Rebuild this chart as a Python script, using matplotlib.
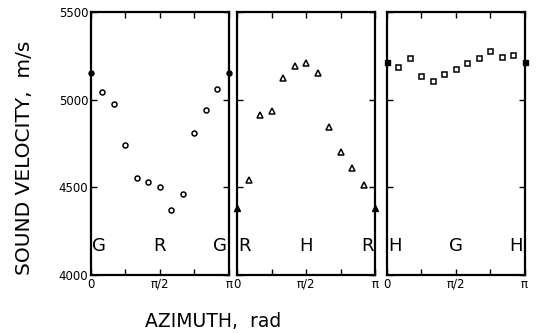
import matplotlib.pyplot as plt
import numpy as np

# azimuth in degrees, every 15 deg from 0 to 180
azimuth_deg = [0, 15, 30, 45, 60, 75, 90, 105, 120, 135, 150, 165, 180]

# sound velocity (m/s) for the three planes
v_gr = [5150, 5042, 4974, 4742, 4552, 4530, 4500, 4369, 4460, 4812, 4941, 5061, 5150]
v_rh = [4380, 4542, 4913, 4935, 5122, 5194, 5207, 5154, 4842, 4700, 4609, 4512, 4380]
v_hg = [5217, 5188, 5236, 5137, 5106, 5146, 5177, 5207, 5236, 5278, 5245, 5255, 5217]

panel_letters = [('G', 'R', 'G'), ('R', 'H', 'R'), ('H', 'G', 'H')]
panel_data = [v_gr, v_rh, v_hg]
panel_markers = ['o', '^', 's']

x = np.radians(azimuth_deg)

fig = plt.figure(figsize=(5.38, 3.33), dpi=100)
lefts = [0.169, 0.441, 0.719]
width = 0.256
bottom, height = 0.174, 0.790

for i in range(3):
    ax = fig.add_axes([lefts[i], bottom, width, height])
    y = panel_data[i]
    m = panel_markers[i]
    ms = 4.0 if m == '^' else 3.6
    # open markers for the inner points
    ax.plot(x[1:-1], y[1:-1], linestyle='none', marker=m, markersize=ms,
            markerfacecolor='white', markeredgecolor='black', markeredgewidth=1.1)
    # filled markers at 0 and pi
    ax.plot([x[0], x[-1]], [y[0], y[-1]], linestyle='none', marker=m, markersize=ms,
            color='black', clip_on=False, zorder=5)

    ax.set_xlim(0, np.pi)
    ax.set_ylim(4000, 5500)
    ax.set_xticks([0, np.pi / 4, np.pi / 2, 3 * np.pi / 4, np.pi])
    ax.set_xticklabels(['0', '', 'π/2', '', 'π'])
    ax.set_yticks([4000, 4500, 5000, 5500])
    if i == 0:
        ax.set_yticklabels(['4000', '4500', '5000', '5500'])
    else:
        ax.set_yticklabels([])
    ax.tick_params(direction='in', top=True, right=True, length=4, width=1,
                   labelsize=8.5, pad=2)
    for s in ax.spines.values():
        s.set_linewidth(1.6)

    l1, l2, l3 = panel_letters[i]
    ax.text(0.03, 4165, l1, ha='left', va='center', fontsize=13)
    ax.text(np.pi / 2, 4165, l2, ha='center', va='center', fontsize=13)
    ax.text(np.pi - 0.03, 4165, l3, ha='right', va='center', fontsize=13)

fig.text(0.046, 0.525, 'SOUND VELOCITY,  m/s', rotation=90, ha='center', va='center',
         fontsize=14.5)
fig.text(0.397, 0.036, 'AZIMUTH,  rad', ha='center', va='center', fontsize=13.5)

fig.savefig('out.png', dpi=100)
